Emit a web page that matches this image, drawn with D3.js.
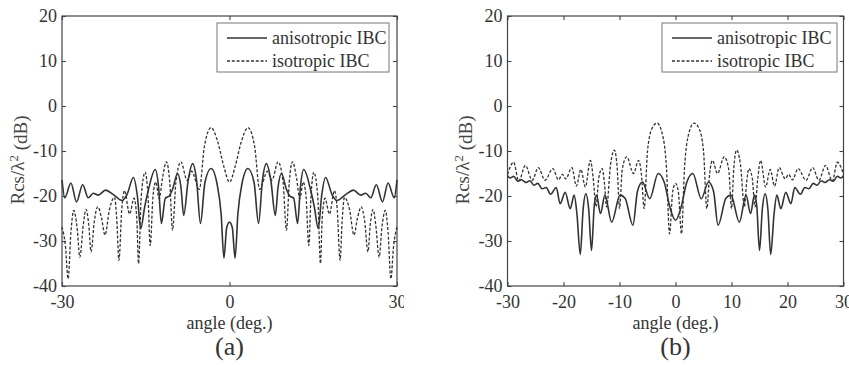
<!DOCTYPE html>
<html>
<head>
<meta charset="utf-8">
<script src="https://cdn.jsdelivr.net/npm/d3@7"></script>
<style>
  body { margin: 0; background: #fff; }
  svg { display: block; font-family: "Liberation Serif", "Times New Roman", serif; }
</style>
</head>
<body>
<div id="chart"></div>
<script>
// tick values and labels
const yTicks = [-40, -30, -20, -10, 0, 10, 20];
const xTicksA = [-30, 0, 30];
const xTicksB = [-30, -20, -10, 0, 10, 20, 30];
const legendLabels = ["anisotropic IBC", "isotropic IBC"];
const panelLabels = ["(a)", "(b)"];

// (a) anisotropic IBC, [angle, dB]
const anisoA = [
  [-30,-16.4],[-29.5,-20.4],[-28.4,-17.1],[-27.4,-21.3],[-26.3,-17.5],[-25.3,-20.4],[-24.4,-19.4],
  [-23.5,-19.8],[-22.2,-18.7],[-20.8,-19.7],[-19.2,-21.0],[-18.4,-19.8],[-17.2,-15.9],[-16.5,-20],
  [-15.9,-27.2],[-15.2,-22.5],[-14.5,-18.5],[-13.3,-14.1],[-12.7,-18],[-12.2,-26.1],[-11.5,-20.5],
  [-10.8,-20],[-10.2,-18.5],[-9.3,-15.0],[-8.7,-18],[-8.2,-24.3],[-7.4,-16.5],[-6.6,-12.8],
  [-5.9,-16.5],[-5.2,-26.1],[-4.4,-17],[-3.3,-13.9],[-2.2,-17.5],[-1.5,-24],[-1.0,-33.8],
  [-0.5,-27],[0,-25.8],
  [0.5,-27],[1.0,-33.8],[1.5,-24],[2.2,-17.5],[3.3,-13.9],[4.4,-17],[5.2,-26.1],[5.9,-16.5],
  [6.6,-12.8],[7.4,-16.5],[8.2,-24.3],[8.7,-18],[9.3,-15.0],[10.2,-18.5],[10.8,-20],[11.5,-20.5],
  [12.2,-26.1],[12.7,-18],[13.3,-14.1],[14.5,-18.5],[15.2,-22.5],[15.9,-27.2],[16.5,-20],
  [17.2,-15.9],[18.4,-19.8],[19.2,-21.0],[20.8,-19.7],[22.2,-18.7],[23.5,-19.8],[24.4,-19.4],
  [25.3,-20.4],[26.3,-17.5],[27.4,-21.3],[28.4,-17.1],[29.5,-20.4],[30,-16.4]
];

// (a) isotropic IBC
const isoA = [
  [-30,-26.9],[-29.4,-31],[-28.9,-38.4],[-28.4,-28],[-27.9,-23.2],[-27.3,-27],[-26.8,-33.6],
  [-26.2,-26.5],[-25.7,-23.0],[-25.2,-26.5],[-24.8,-32.4],[-24.2,-25.5],[-23.6,-22.4],[-22.9,-25],
  [-22.3,-28.7],[-21.5,-23],[-20.6,-20.3],[-20.2,-25],[-19.8,-34.3],[-19.3,-23],[-18.8,-18.8],
  [-17.9,-24],[-17.1,-20.5],[-16.6,-25],[-16.3,-35],[-15.8,-20],[-15.1,-14.7],[-14.6,-20],
  [-14.2,-31],[-13.7,-20],[-13.2,-16.9],[-12.6,-20.6],[-12.0,-16],[-11.3,-12.4],[-10.7,-17],
  [-10.2,-27.6],[-9.6,-17],[-8.7,-12.4],[-7.6,-16.5],[-6.8,-14.5],[-5.4,-18.5],[-4.5,-9],
  [-3.3,-4.8],[-2.1,-8],[-1,-13.5],[0,-16.9],
  [1,-13.5],[2.1,-8],[3.3,-4.8],[4.5,-9],[5.4,-18.5],[6.8,-14.5],[7.6,-16.5],[8.7,-12.4],
  [9.6,-17],[10.2,-27.6],[10.7,-17],[11.3,-12.4],[12.0,-16],[12.6,-20.6],[13.2,-16.9],[13.7,-20],
  [14.2,-31],[14.6,-20],[15.1,-14.7],[15.8,-20],[16.3,-35],[16.6,-25],[17.1,-20.5],[17.9,-24],
  [18.8,-18.8],[19.3,-23],[19.8,-34.3],[20.2,-25],[20.6,-20.3],[21.5,-23],[22.3,-28.7],[22.9,-25],
  [23.6,-22.4],[24.2,-25.5],[24.8,-32.4],[25.2,-26.5],[25.7,-23.0],[26.2,-26.5],[26.8,-33.6],
  [27.3,-27],[27.9,-23.2],[28.4,-28],[28.9,-38.4],[29.4,-31],[30,-26.9]
];

// (b) anisotropic IBC
const anisoB = [
  [-30,-15.5],[-29.5,-16.0],[-28.9,-15.6],[-28.2,-16.7],[-27.5,-16.4],[-26.7,-17.0],[-26.0,-16.6],
  [-25.3,-17.6],[-24.6,-17.2],[-23.8,-18.4],[-23.1,-18.1],[-22.3,-19.6],[-21.3,-18.1],[-20.6,-21.7],
  [-19.7,-19.2],[-18.8,-22.8],[-18.1,-19.8],[-17.6,-24],[-17.0,-33.0],[-16.5,-23],[-16.0,-19.5],
  [-15.5,-23],[-15.0,-32.1],[-14.5,-22],[-14.1,-19.8],[-13.4,-23.9],[-12.6,-19.8],[-11.4,-25.8],
  [-9.9,-19.8],[-9.0,-20.5],[-7.6,-26.5],[-6.8,-19],[-5.9,-16.9],[-4.6,-20.6],[-3.1,-15.0],
  [-2,-17],[-1,-22.5],[0,-25.4],
  [1,-22.5],[2,-17],[3.1,-15.0],[4.6,-20.6],[5.9,-16.9],[6.8,-19],[7.6,-26.5],[9.0,-20.5],
  [9.9,-19.8],[11.4,-25.8],[12.6,-19.8],[13.4,-23.9],[14.1,-19.8],[14.5,-22],[15.0,-32.1],
  [15.5,-23],[16.0,-19.5],[16.5,-23],[17.0,-33.0],[17.6,-24],[18.1,-19.8],[18.8,-22.8],
  [19.7,-19.2],[20.6,-21.7],[21.3,-18.1],[22.3,-19.6],[23.1,-18.1],[23.8,-18.4],[24.6,-17.2],
  [25.3,-17.6],[26.0,-16.6],[26.7,-17.0],[27.5,-16.4],[28.2,-16.7],[28.9,-15.6],[29.5,-16.0],[30,-15.5]
];

// (b) isotropic IBC
const isoB = [
  [-30,-15.2],[-28.9,-12.5],[-28.0,-16.7],[-26.8,-13.2],[-25.6,-16.5],[-24.5,-13.7],[-23.3,-16.5],
  [-21.9,-13.9],[-20.9,-16.4],[-20.2,-15.2],[-19.6,-16.2],[-18.5,-13.7],[-17.7,-17.8],[-16.9,-14.1],
  [-16.1,-18],[-15.2,-12.1],[-14.7,-16],[-14.2,-22.4],[-13.7,-16],[-13.1,-13.9],[-12.7,-17],
  [-12.3,-22.4],[-11.6,-13],[-10.9,-9.8],[-10.4,-14],[-10.0,-22.8],[-9.5,-14],[-8.7,-11.3],
  [-7.5,-15.0],[-6.6,-12.1],[-6.1,-15],[-5.6,-22.8],[-5.0,-10],[-4.2,-5],[-3.3,-3.8],[-2.4,-6],
  [-1.6,-14],[-1.07,-28.4],[-0.5,-19],[0,-17.2],
  [0.5,-19],[1.07,-28.4],[1.6,-14],[2.4,-6],[3.3,-3.8],[4.2,-5],[5.0,-10],[5.6,-22.8],[6.1,-15],
  [6.6,-12.1],[7.5,-15.0],[8.7,-11.3],[9.5,-14],[10.0,-22.8],[10.4,-14],[10.9,-9.8],[11.6,-13],
  [12.3,-22.4],[12.7,-17],[13.1,-13.9],[13.7,-16],[14.2,-22.4],[14.7,-16],[15.2,-12.1],[16.1,-18],
  [16.9,-14.1],[17.7,-17.8],[18.5,-13.7],[19.6,-16.2],[20.2,-15.2],[20.9,-16.4],[21.9,-13.9],
  [23.3,-16.5],[24.5,-13.7],[25.6,-16.5],[26.8,-13.2],[28.0,-16.7],[28.9,-12.5],[30,-15.2]
];

const W = 849, H = 365;
const ink = "#333";
const fmt = d => String(d);   // plain hyphen for negatives, as in the figure

const svg = d3.select("#chart").append("svg")
  .attr("width", W)
  .attr("height", H);

svg.append("rect").attr("width", W).attr("height", H).attr("fill", "#fff");

// panel (a) is cut at its right edge in the figure
svg.append("clipPath").attr("id", "clipA")
  .append("rect").attr("x", 0).attr("y", 0).attr("width", 404).attr("height", H);

function drawPanel(opts) {
  const g = svg.append("g");
  if (opts.clip) g.attr("clip-path", "url(#" + opts.clip + ")");

  const x = d3.scaleLinear().domain([-30, 30]).range([opts.left, opts.right]);
  const y = d3.scaleLinear().domain([-40, 20]).range([opts.bottom, opts.top]);

  // frame
  g.append("rect")
    .attr("x", opts.left).attr("y", opts.top)
    .attr("width", opts.right - opts.left).attr("height", opts.bottom - opts.top)
    .attr("fill", "none").attr("stroke", "#444").attr("stroke-width", 1.2);

  const styleAxis = sel => {
    sel.select(".domain").remove();
    sel.selectAll("line").attr("stroke", "#444").attr("stroke-width", 1.1);
    sel.selectAll("text").attr("fill", ink).style("font-size", "18px")
      .style("font-family", "'Liberation Serif', serif");
  };

  g.append("g").attr("transform", "translate(" + opts.left + ",0)")
    .call(d3.axisLeft(y).tickValues(yTicks).tickSize(-4).tickPadding(5).tickFormat(fmt))
    .call(styleAxis);
  g.append("g").attr("transform", "translate(" + opts.right + ",0)")
    .call(d3.axisRight(y).tickValues(yTicks).tickSize(-4).tickFormat(""))
    .call(styleAxis);
  g.append("g").attr("transform", "translate(0," + opts.bottom + ")")
    .call(d3.axisBottom(x).tickValues(opts.xTicks).tickSize(-4).tickPadding(9).tickFormat(fmt))
    .call(styleAxis);
  g.append("g").attr("transform", "translate(0," + opts.top + ")")
    .call(d3.axisTop(x).tickValues(opts.xTicks).tickSize(-4).tickFormat(""))
    .call(styleAxis);

  // curves
  const line = d3.line()
    .x(d => x(d[0]))
    .y(d => y(d[1]))
    .curve(d3.curveMonotoneX);

  g.append("path").datum(opts.iso)
    .attr("d", line).attr("fill", "none")
    .attr("stroke", ink).attr("stroke-width", 1.3).attr("stroke-dasharray", "3,1.8");
  g.append("path").datum(opts.aniso)
    .attr("d", line).attr("fill", "none")
    .attr("stroke", ink).attr("stroke-width", 1.6);

  // legend
  const lg = g.append("g").attr("transform", "translate(" + opts.legendX + ",23)");
  lg.append("rect").attr("width", opts.legendW).attr("height", 49)
    .attr("fill", "#fff").attr("stroke", "#777").attr("stroke-width", 1);
  legendLabels.forEach((lab, i) => {
    const yy = 15 + i * 23;
    lg.append("line").attr("x1", 10).attr("x2", 50).attr("y1", yy).attr("y2", yy)
      .attr("stroke", ink).attr("stroke-width", i ? 1.3 : 1.6)
      .attr("stroke-dasharray", i ? "3,1.8" : null);
    lg.append("text").attr("x", 55).attr("y", yy + 5.5)
      .attr("fill", ink).style("font-size", "18px").text(lab);
  });

  // axis titles
  const cx = (opts.left + opts.right) / 2;
  g.append("text").attr("x", cx).attr("y", 329)
    .attr("text-anchor", "middle").attr("fill", ink).style("font-size", "18px")
    .text("angle (deg.)");

  const yl = g.append("text")
    .attr("transform", "translate(" + opts.ylabelX + ",160) rotate(-90)")
    .attr("text-anchor", "middle").attr("fill", "#444").style("font-size", "19px");
  yl.append("tspan").text("Rcs/λ");
  yl.append("tspan").attr("dy", "-0.45em").style("font-size", "13px").text("2");
  yl.append("tspan").attr("dy", "0.45em").text(" (dB)");

  g.append("text").attr("x", cx).attr("y", 355)
    .attr("text-anchor", "middle").attr("fill", ink).style("font-size", "26px")
    .text(opts.label);
}

drawPanel({
  left: 62, right: 397, top: 16, bottom: 286,
  xTicks: xTicksA, aniso: anisoA, iso: isoA,
  legendX: 217, legendW: 172, ylabelX: 24, label: panelLabels[0], clip: "clipA"
});

drawPanel({
  left: 507.5, right: 843.5, top: 16, bottom: 286,
  xTicks: xTicksB, aniso: anisoB, iso: isoB,
  legendX: 662, legendW: 175, ylabelX: 469, label: panelLabels[1]
});
</script>
</body>
</html>
